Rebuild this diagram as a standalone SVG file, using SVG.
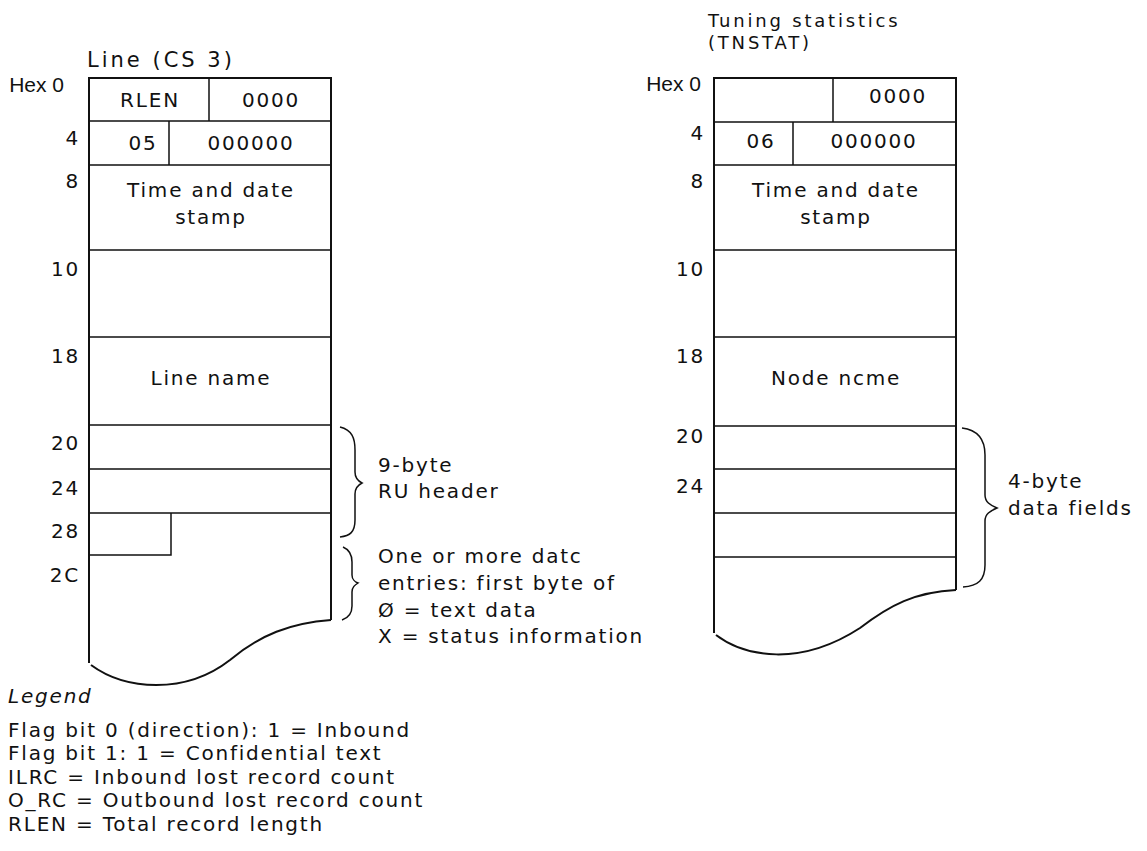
<svg xmlns="http://www.w3.org/2000/svg" width="1147" height="851" viewBox="0 0 1147 851">
<style>
text{font-family:"DejaVu Sans","Liberation Sans",sans-serif;font-size:20px;letter-spacing:1.8px;fill:#111}
.ttl{font-size:21px;letter-spacing:3px}
.hx{font-family:"Liberation Sans",sans-serif;font-size:21px;letter-spacing:0}
.sm{font-size:18px;letter-spacing:2.8px}
.m{text-anchor:middle}
.r{text-anchor:end}
.o{fill:none;stroke:#111;stroke-width:2}
.i{fill:none;stroke:#111;stroke-width:1.5}
.lg{font-style:italic}
</style>
<rect width="1147" height="851" fill="#fff"/>
<g id="line-record">
<text x="87" y="67" class="ttl">Line (CS 3)</text>
<path class="o" d="M89,663 V78 H331 V620"/>
<path class="o" d="M91,665 C125,690 185,695 230,660 C260,635 290,623 331,620"/>
<path class="i" d="M89,121 H331 M89,165 H331 M89,250 H331 M89,337 H331 M89,425 H331 M89,469 H331 M89,513 H331 M209,78 V121 M169,121 V165 M171,513 V555 H89"/>
<text x="64" y="92" class="hx r">Hex 0</text>
<text x="80" y="145" class="r">4</text>
<text x="80" y="188" class="r">8</text>
<text x="80" y="276" class="r">10</text>
<text x="80" y="363" class="r">18</text>
<text x="80" y="450" class="r">20</text>
<text x="80" y="495" class="r">24</text>
<text x="80" y="538" class="r">28</text>
<text x="80" y="582" class="r">2C</text>
<text x="150" y="107" class="m">RLEN</text>
<text x="271" y="107" class="m">0000</text>
<text x="143" y="150" class="m">05</text>
<text x="251" y="150" class="m">000000</text>
<text x="211" y="197" class="m">Time and date</text>
<text x="211" y="224" class="m">stamp</text>
<text x="211" y="385" class="m">Line name</text>
</g>
<g id="tnstat-record">
<text x="708" y="27" class="sm">Tuning statistics</text>
<text x="708" y="49" class="sm">(TNSTAT)</text>
<path class="o" d="M714,633 V78 H956 V590"/>
<path class="o" d="M716,635 C745,657 800,667 860,628 C890,605 915,592 956,590"/>
<path class="i" d="M714,122 H956 M714,165 H956 M714,250 H956 M714,337 H956 M714,426 H956 M714,469 H956 M714,513 H956 M714,557 H956 M833,78 V122 M793,122 V165"/>
<text x="701" y="91" class="hx r">Hex 0</text>
<text x="705" y="140" class="r">4</text>
<text x="705" y="188" class="r">8</text>
<text x="705" y="276" class="r">10</text>
<text x="705" y="363" class="r">18</text>
<text x="705" y="443" class="r">20</text>
<text x="705" y="493" class="r">24</text>
<text x="898" y="103" class="m">0000</text>
<text x="761" y="148" class="m">06</text>
<text x="874" y="148" class="m">000000</text>
<text x="836" y="197" class="m">Time and date</text>
<text x="836" y="224" class="m">stamp</text>
<text x="836" y="385" class="m">Node ncme</text>
</g>
<g id="connectors">
<path class="i" d="M340,427 C352,430 355,438 355,450 V472 C355,478 358,481 362,483 C358,485 355,488 355,494 V520 C355,532 350,536 340,537"/>
<path class="i" d="M343,547 C350,550 352,555 352,562 V575 C352,579 355,582 358,583 C355,585 352,587 352,592 V606 C352,614 348,618 342,620"/>
<path class="i" d="M962,428 C978,430 985,440 985,455 V495 C985,502 990,505 997,508 C990,511 985,514 985,521 V565 C985,580 978,586 963,587"/>
</g>
<g id="annotations">
<text x="378" y="472">9-byte</text>
<text x="378" y="498">RU header</text>
<text x="378" y="563">One or more datc</text>
<text x="378" y="590">entries: first byte of</text>
<text x="378" y="617">Ø = text data</text>
<text x="378" y="643">X = status information</text>
<text x="1008" y="488">4-byte</text>
<text x="1008" y="515">data fields</text>
</g>
<g id="legend">
<text x="8" y="703" class="lg">Legend</text>
<text x="8" y="737">Flag bit 0 (direction): 1 = Inbound</text>
<text x="8" y="760">Flag bit 1: 1 = Confidential text</text>
<text x="8" y="784">ILRC = Inbound lost record count</text>
<text x="8" y="807">O_RC = Outbound lost record count</text>
<text x="8" y="831">RLEN = Total record length</text>
</g>
</svg>
